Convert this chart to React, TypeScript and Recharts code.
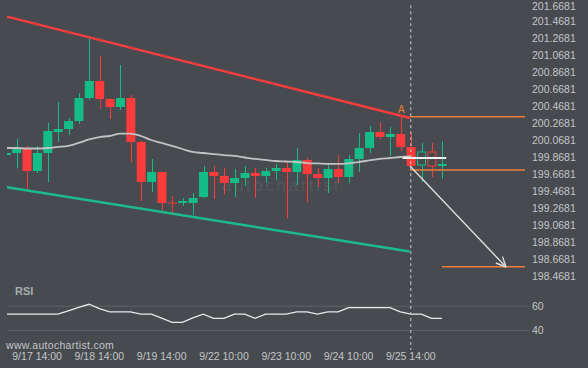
import React from 'react';
import { ComposedChart, Bar, Line, XAxis, YAxis, ReferenceLine } from 'recharts';

const FONT = '"Liberation Sans", Arial, Helvetica, sans-serif';
const BG = '#474a4f';
const GREEN = '#14bd86';
const RED = '#fc3c3c';
const TEXT = '#c3c5c9';
const ORANGE = '#ee7f3a';

// 4-hour candles, index 0..42
const opens = [199.897, 199.921, 199.98, 199.709, 199.921, 200.168, 200.203, 200.298, 200.568, 200.768, 200.556, 200.462, 200.568, 200.051, 199.58, 199.698, 199.338, 199.333, 199.333, 199.403, 199.698, 199.651, 199.568, 199.627, 199.686, 199.651, 199.709, 199.745, 199.698, 199.839, 199.674, 199.627, 199.733, 199.639, 199.851, 199.98, 200.168, 200.109, 200.145, 199.992, 199.78, 199.933, 199.768];
const highs = [199.933, 200.086, 200.003, 200.003, 200.274, 200.521, 200.333, 200.627, 201.274, 201.062, 200.56, 200.956, 200.603, 200.062, 199.851, 199.7, 199.415, 199.392, 199.451, 199.768, 199.768, 199.745, 199.733, 199.768, 199.745, 199.745, 199.792, 199.815, 199.98, 199.862, 199.745, 199.792, 199.897, 199.897, 200.156, 200.239, 200.286, 200.227, 200.345, 200.168, 200.039, 200.039, 200.062];
const lows = [199.886, 199.745, 199.498, 199.686, 199.58, 200.051, 200.133, 200.262, 200.545, 200.439, 200.321, 200.427, 199.815, 199.356, 199.462, 199.25, 199.215, 199.298, 199.192, 199.392, 199.38, 199.439, 199.403, 199.533, 199.392, 199.568, 199.603, 199.156, 199.545, 199.345, 199.521, 199.451, 199.568, 199.568, 199.698, 199.921, 200.086, 199.886, 199.945, 199.76, 199.58, 199.639, 199.615];
const closes = [199.921, 199.98, 199.709, 199.921, 200.18, 200.203, 200.298, 200.568, 200.768, 200.556, 200.462, 200.568, 200.051, 199.58, 199.698, 199.333, 199.328, 199.356, 199.392, 199.698, 199.651, 199.568, 199.627, 199.686, 199.651, 199.709, 199.745, 199.698, 199.839, 199.674, 199.627, 199.733, 199.639, 199.851, 199.98, 200.168, 200.109, 200.145, 199.992, 199.768, 199.933, 199.768, 199.792];
const hollowCandles = [40, 41];
const maValues: (number | null)[] = [199.98, 199.98, 199.974, 199.974, 199.98, 199.992, 200.004, 200.039, 200.08, 200.109, 200.121, 200.15, 200.15, 200.121, 200.074, 200.039, 200.004, 199.968, 199.933, 199.921, 199.909, 199.897, 199.886, 199.868, 199.851, 199.839, 199.827, 199.821, 199.815, 199.803, 199.798, 199.792, 199.792, 199.8, 199.815, 199.833, 199.851, 199.862, 199.874, 199.882, null, null, null];
const maProjection = 199.862;
const rsiValues = [53.4, 53.4, 53.4, 53.4, 53.4, 53.4, 56.1, 59.0, 61.6, 58.0, 55.3, 55.3, 55.3, 53.4, 53.4, 50.1, 46.6, 46.6, 50.4, 53.4, 49.9, 49.9, 53.4, 53.4, 49.9, 53.4, 53.4, 53.4, 55.3, 55.3, 53.4, 55.3, 55.3, 58.9, 58.9, 58.9, 58.9, 58.9, 55.3, 53.4, 53.4, 49.9, 49.9];

const timeTickIndex = [3, 9, 15, 21, 27, 33, 39];
const timeTickLabels = ['9/17 14:00', '9/18 14:00', '9/19 14:00', '9/22 10:00', '9/23 10:00', '9/24 10:00', '9/25 14:00'];
const priceTicks = [198.4681, 198.6681, 198.8681, 199.0681, 199.2681, 199.4681, 199.6681, 199.8681, 200.0681, 200.2681, 200.4681, 200.6681, 200.8681, 201.0681, 201.2681, 201.4681, 201.6681];
const rsiTicks = [40, 60];

// pattern annotations (index, price)
const upperTrend = [{ x: 0.1, y: 201.525 }, { x: 38.9, y: 200.333 }];
const lowerTrend = [{ x: 0.1, y: 199.5175 }, { x: 38.9, y: 198.762 }];
const levelA = 200.348;
const levelB = 199.721;
const targetLevel = 198.583;
const currentIndex = 39;
const arrowStart = { x: 38.92, y: 199.768 };
const arrowTip = { x: 48.17, y: 198.58 };
const arrowWing1 = { x: 47.83, y: 198.702 };
const arrowWing2 = { x: 47.19, y: 198.627 };

const X_DOMAIN: [number, number] = [0.1, 50];
const PRICE_DOMAIN: [number, number] = [198.4034, 201.721];
const RSI_DOMAIN: [number, number] = [30, 80];

const candleData = opens.map((o, i) => ({
  i,
  o,
  h: highs[i],
  l: lows[i],
  c: closes[i],
  range: [lows[i], highs[i]],
  ma: maValues[i],
  hollow: hollowCandles.includes(i),
}));
const rsiData = rsiValues.map((rsi, i) => ({ i, rsi }));

function Candle(props: any) {
  const { x, y, width, height, payload } = props;
  if (x == null || y == null || !payload) return null;
  const { o, h, l, c, hollow } = payload;
  const top = Math.min(y, y + height);
  const px = Math.abs(height);
  const span = h - l || 1;
  const toY = (v: number) => top + ((h - v) / span) * px;
  const up = c >= o;
  const color = up ? GREEN : RED;
  const bodyTop = toY(Math.max(o, c));
  const bodyBot = toY(Math.min(o, c));
  const bodyH = Math.max(1, bodyBot - bodyTop);
  const cx = Math.round(x + width / 2) + 0.5;
  if (hollow) {
    return (
      <g>
        <line x1={cx} x2={cx} y1={top} y2={bodyTop} stroke={color} strokeWidth={1} />
        <line x1={cx} x2={cx} y1={bodyTop + bodyH} y2={top + px} stroke={color} strokeWidth={1} />
        <rect x={x + 0.5} y={bodyTop} width={width - 1} height={bodyH} fill="none" stroke={color} strokeWidth={1} />
      </g>
    );
  }
  return (
    <g>
      <line x1={cx} x2={cx} y1={top} y2={top + px} stroke={color} strokeWidth={1} />
      <rect x={x} y={bodyTop} width={width} height={bodyH} fill={color} />
    </g>
  );
}

function PriceTick(props: any) {
  const { x, y, payload } = props;
  const ty = Math.max(y, 6);
  return (
    <text x={x} y={ty} dy="0.355em" textAnchor="start" fill={TEXT} fontSize={10.5} fontFamily={FONT}>
      {Number(payload.value).toFixed(4)}
    </text>
  );
}

const tickStyle = { fill: TEXT, fontSize: 10.5, fontFamily: FONT };

export default function App() {
  return (
    <div style={{ position: 'fixed', left: 0, top: 0, width: 588, height: 368, background: BG, overflow: 'hidden', fontFamily: FONT }}>
      <div style={{ position: 'absolute', left: 188, top: 158, width: 60, height: 34 }}>
        <div style={{ position: 'absolute', left: 34, top: 18, fontSize: 17, letterSpacing: 2.6, color: 'rgba(255,255,255,0.09)', lineHeight: '20px', whiteSpace: 'nowrap' }}>autochartist</div>
      </div>
      <div style={{ position: 'absolute', left: 0, top: 0 }}>
        <ComposedChart width={588} height={282} data={candleData} margin={{ top: 0, right: 0, left: 7, bottom: 0 }}>
          <XAxis type="number" dataKey="i" domain={X_DOMAIN} hide allowDataOverflow />
          <YAxis
            orientation="right"
            domain={PRICE_DOMAIN}
            ticks={priceTicks}
            allowDataOverflow
            width={63}
            axisLine={false}
            tickLine={false}
            tickSize={0}
            tickMargin={7}
            interval={0}
            tick={<PriceTick />}
          />
          <ReferenceLine segment={upperTrend} stroke="#f53d3d" strokeWidth={2.5} ifOverflow="visible" />
          <ReferenceLine segment={lowerTrend} stroke="#1dbb8a" strokeWidth={2.5} ifOverflow="visible" />
          <Bar dataKey="range" barSize={9} shape={(p: any) => <Candle {...p} />} isAnimationActive={false} />
          <Line dataKey="ma" type="monotone" stroke="#c2c2c2" strokeWidth={1.8} dot={false} activeDot={false} connectNulls={false} isAnimationActive={false} />
          <ReferenceLine segment={[{ x: 38.2, y: maProjection }, { x: 42.4, y: maProjection }]} stroke="#f2f2f2" strokeWidth={1.8} ifOverflow="visible" />
          <ReferenceLine segment={[{ x: currentIndex, y: 201.66 }, { x: currentIndex, y: PRICE_DOMAIN[0] }]} stroke="#c9c9c9" strokeDasharray="3 3" ifOverflow="visible" />
          <ReferenceLine segment={[{ x: 38.9, y: levelA }, { x: X_DOMAIN[1], y: levelA }]} stroke={ORANGE} strokeWidth={1.5} ifOverflow="visible" />
          <ReferenceLine segment={[{ x: 38.9, y: levelB }, { x: X_DOMAIN[1], y: levelB }]} stroke={ORANGE} strokeWidth={1.5} ifOverflow="visible" />
          <ReferenceLine segment={[{ x: 42.0, y: targetLevel }, { x: X_DOMAIN[1], y: targetLevel }]} stroke={ORANGE} strokeWidth={1.5} ifOverflow="visible" />
          <ReferenceLine segment={[arrowStart, arrowTip]} stroke="#dedede" strokeWidth={1.4} ifOverflow="visible" />
          <ReferenceLine segment={[arrowWing1, arrowTip]} stroke="#dedede" strokeWidth={1.4} ifOverflow="visible" />
          <ReferenceLine segment={[arrowWing2, arrowTip]} stroke="#dedede" strokeWidth={1.4} ifOverflow="visible" />
        </ComposedChart>
      </div>
      <div style={{ position: 'absolute', left: 0, top: 282 }}>
        <ComposedChart width={588} height={86} data={rsiData} margin={{ top: 0, right: 0, left: 7, bottom: 0 }}>
          <XAxis
            type="number"
            dataKey="i"
            domain={X_DOMAIN}
            allowDataOverflow
            ticks={timeTickIndex}
            interval={0}
            height={25.5}
            axisLine={false}
            tickLine={false}
            tickSize={0}
            tickMargin={10.5}
            tick={tickStyle}
            tickFormatter={(v: number) => timeTickLabels[timeTickIndex.indexOf(v)] ?? ''}
          />
          <YAxis
            orientation="right"
            domain={RSI_DOMAIN}
            ticks={rsiTicks}
            allowDataOverflow
            width={63}
            axisLine={false}
            tickLine={false}
            tickSize={0}
            tickMargin={7}
            interval={0}
            tick={tickStyle}
          />
          <ReferenceLine segment={[{ x: X_DOMAIN[0], y: 60 }, { x: 50.48, y: 60 }]} stroke="#5e6267" strokeWidth={1} ifOverflow="visible" />
          <ReferenceLine segment={[{ x: X_DOMAIN[0], y: 40 }, { x: 50.48, y: 40 }]} stroke="#5e6267" strokeWidth={1} ifOverflow="visible" />
          <Line dataKey="rsi" type="linear" stroke="#e8e8e8" strokeWidth={1.3} dot={false} activeDot={false} isAnimationActive={false} />
          <ReferenceLine segment={[{ x: currentIndex, y: RSI_DOMAIN[1] }, { x: currentIndex, y: 23.8 }]} stroke="#c9c9c9" strokeDasharray="3 3" ifOverflow="visible" />
        </ComposedChart>
      </div>
      <div style={{ position: 'absolute', left: 398, top: 104, fontSize: 10, color: ORANGE, lineHeight: '12px' }}>A</div>
      <div style={{ position: 'absolute', left: 15, top: 285, fontSize: 11, fontWeight: 'bold', color: '#a9acb1', lineHeight: '13px' }}>RSI</div>
      <div style={{ position: 'absolute', left: 6, top: 339, fontSize: 10.5, letterSpacing: 0.3, color: TEXT, lineHeight: '12px' }}>www.autochartist.com</div>
    </div>
  );
}
